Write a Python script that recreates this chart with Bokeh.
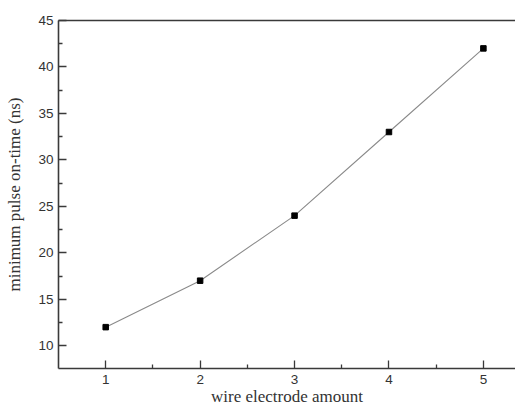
from bokeh.plotting import figure
from bokeh.models import Range1d, LinearAxis, FixedTicker
from bokeh.embed import file_html
from bokeh.resources import INLINE

wire_amount = [1, 2, 3, 4, 5]
min_pulse_on_time = [12, 17, 24, 33, 42]
x_ticks = [1, 2, 3, 4, 5]
x_minor = [1.5, 2.5, 3.5, 4.5]
y_ticks = [10, 15, 20, 25, 30, 35, 40, 45]
y_minor = [12.5, 17.5, 22.5, 27.5, 32.5, 37.5, 42.5]

p = figure(width=515, height=408, output_backend="svg", toolbar_location=None,
           x_range=Range1d(0.5, 5.34), y_range=Range1d(7.55, 45),
           min_border_left=58, min_border_top=20, min_border_right=0, min_border_bottom=40)
p.outline_line_color = None
p.grid.visible = False
p.background_fill_color = "white"
p.border_fill_color = "white"

axis_col = "#3a3a3a"
for ax in (p.xaxis[0], p.yaxis[0]):
    ax.axis_line_color = axis_col
    ax.axis_line_width = 1.6
    ax.major_tick_line_color = axis_col
    ax.minor_tick_line_color = axis_col
    ax.major_tick_line_width = 1.3
    ax.minor_tick_line_width = 1.3
    ax.major_tick_in = 8
    ax.major_tick_out = 0
    ax.minor_tick_in = 4
    ax.minor_tick_out = 0
    ax.major_label_text_font = "Liberation Sans"
    ax.major_label_text_font_size = "13.5px"
    ax.major_label_text_color = "#333333"
    ax.axis_label_text_font = "Liberation Serif"
    ax.axis_label_text_font_size = "17px"
    ax.axis_label_text_font_style = "normal"
    ax.axis_label_text_color = "#333333"

p.xaxis[0].ticker = FixedTicker(ticks=x_ticks, minor_ticks=x_minor)
p.yaxis[0].ticker = FixedTicker(ticks=y_ticks, minor_ticks=y_minor)
p.xaxis[0].axis_label = "wire electrode amount"
p.yaxis[0].axis_label = "minimum pulse on-time (ns)"
p.xaxis[0].major_label_standoff = 6
p.xaxis[0].axis_label_standoff = 0
p.yaxis[0].major_label_standoff = 5
p.yaxis[0].axis_label_standoff = 11

top = LinearAxis(axis_line_color=axis_col, axis_line_width=1.6,
                 major_tick_line_color=None, minor_tick_line_color=None,
                 major_label_text_font_size="0px", ticker=FixedTicker(ticks=[]))
top.major_label_standoff = 0
p.add_layout(top, "above")

p.line(wire_amount, min_pulse_on_time, line_color="#8a8a8a", line_width=1.1)
p.scatter(wire_amount, min_pulse_on_time, marker="square", size=5.5,
          fill_color="black", line_color="black")

open("out.html", "w").write(file_html(p, INLINE))
